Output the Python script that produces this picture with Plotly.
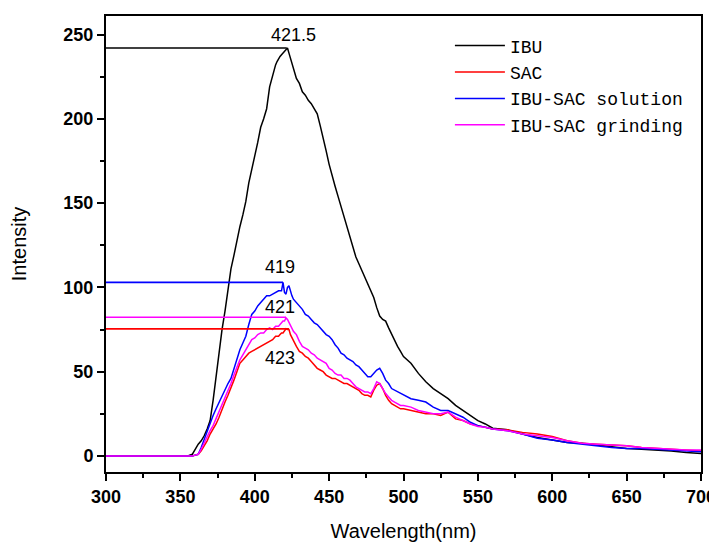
import plotly.graph_objects as go

# ---------------- data ----------------
wavelength = [300, 320, 340, 355, 358, 360,
              362, 364, 366, 368, 370, 372, 374, 376, 378, 380, 382, 384, 386, 388,
              390, 392, 394, 396, 398, 400, 402, 404, 406, 408, 410, 412, 414,
              415, 416, 417, 418, 419, 420, 421, 422, 423, 424, 425, 426, 427,
              428, 430, 432, 434, 436, 438, 440, 442, 444, 446,
              448, 450, 452, 454, 456, 458, 460, 462, 464, 466,
              468, 470, 472, 474, 476, 478, 480, 482, 484, 486,
              488, 490, 492, 494, 496, 498, 500,
              505, 510, 515, 520, 525, 530, 535, 540, 545, 550, 555, 560,
              570, 580, 590, 600, 610, 620, 630, 640, 650, 660, 670, 680, 690, 700]

ibu = [0, 0, 0, 0, 1, 4,
       7, 9, 12, 16, 21, 33, 48, 62, 75, 86, 100, 111, 119, 128,
       136, 143, 151, 162, 171, 178, 186, 195, 200, 206, 219, 226, 232,
       234, 236, 237, 238, 239, 240, 241, 242, 239, 236, 233, 230, 227,
       224, 221, 216, 214, 211, 209, 206, 203, 196, 189,
       181, 173, 166, 160, 154, 148, 142, 136, 130, 124,
       118, 114, 110, 105, 101, 97, 94, 88, 83, 81,
       80, 76, 72, 69, 65, 62, 59,
       55, 49, 44, 40, 37, 34, 30, 27, 24, 21, 19, 16.5,
       15.5, 13, 11, 9.5, 8, 7.5, 6.5, 5.5, 4.5, 4, 3.5, 3, 2, 1.5]

sac = [0, 0, 0, 0, 0, 0.5,
       1, 3, 6, 9, 13, 16, 19, 23, 28, 32, 36, 40, 45, 50,
       55, 57, 59, 61, 62, 63, 64, 65, 66, 67, 68, 69, 71,
       71, 71, 72, 73, 73, 74, 75.5, 75, 75, 72, 70, 68, 66,
       65, 62, 61, 59, 58, 56, 54, 52, 51, 50,
       48, 47, 46, 46, 45, 44, 43, 43, 42, 41,
       40, 39, 37, 36, 36, 35, 39, 42, 43, 40,
       36, 33, 31, 30, 29, 28, 28,
       27, 26, 25, 25, 24, 26, 22, 21, 19, 18, 17, 16,
       15.5, 14, 13, 11.5, 9, 7.5, 7, 6.5, 6, 5, 4.5, 4, 3.5, 3]

solution = [0, 0, 0, 0, 0, 0.5,
            1, 5, 10, 15, 20, 24, 28, 32, 36, 40, 43, 46, 52, 58,
            63, 67, 71, 78, 84, 86, 89, 91, 93, 95, 95, 96, 97,
            97, 98, 98, 98, 103, 97, 96, 100, 101, 97, 95, 93, 92,
            91, 89, 87, 84, 83, 81, 79, 78, 76, 74,
            72, 71, 69, 66, 64, 61, 60, 58, 57, 56,
            54, 53, 51, 49, 47, 47, 49, 51, 52, 49,
            45, 43, 40, 39, 38, 37, 36,
            34, 33, 32, 29, 27, 27, 25, 23, 20, 18, 17, 16,
            15, 13, 10.5, 9.5, 8, 7, 6, 5, 4.5, 4.5, 4, 3.5, 3, 2.5]

grinding = [0, 0, 0, 0, 0, 0.5,
            1, 4, 8, 11, 15, 18, 22, 27, 31, 35, 39, 43, 48, 53,
            57, 60, 63, 66, 69, 70, 72, 73, 73, 75, 76, 75, 77,
            77, 77, 78, 79, 80, 80, 82, 81, 79, 78, 76, 74, 73,
            72, 68, 65, 64, 63, 61, 60, 58, 57, 56,
            55, 52, 51, 49, 48, 48, 46, 46, 45, 43,
            41, 40, 39, 38, 38, 37, 40, 44, 43, 40,
            37, 35, 33, 32, 31, 30, 30,
            29, 27, 26, 25, 25, 26, 23, 21, 19, 17.5, 17, 16,
            15, 13, 12, 11, 9, 7.5, 7, 6.5, 6, 5, 4.5, 4, 3.5, 3.5]

series_names = ["IBU", "SAC", "IBU-SAC solution", "IBU-SAC grinding"]
series_values = [ibu, sac, solution, grinding]
series_colors = ["#000000", "#FF0000", "#0000FF", "#FF00FF"]

peak_labels = ["421.5", "423", "419", "421"]
peak_wl = [421.5, 423, 419, 421]
peak_val = [242, 75.4, 103, 82.3]

x_ticks = [300, 350, 400, 450, 500, 550, 600, 650, 700]
y_ticks = [0, 50, 100, 150, 200, 250]

# ---------------- figure ----------------
fig = go.Figure()
for name, vals, col in zip(series_names, series_values, series_colors):
    fig.add_trace(go.Scatter(x=wavelength, y=vals, mode="lines", name=name,
                             line=dict(color=col, width=1.5)))

# drop lines from the y axis to each peak
for wl, val, col in zip(peak_wl, peak_val, series_colors):
    fig.add_shape(type="line", xref="x", yref="y", x0=300, x1=wl, y0=val, y1=val,
                  line=dict(color=col, width=1.6))

# peak labels (offsets: label anchor placement relative to peak)
label_offsets = [(4.3, 7.5), (-5.9, -17.5), (-1.9, 9), (-3.9, 6)]
for txt, wl, val, (dx, dy) in zip(peak_labels, peak_wl, peak_val, label_offsets):
    fig.add_annotation(x=wl + dx, y=val + dy, text=txt, showarrow=False,
                       xanchor="center", yanchor="middle",
                       font=dict(family="Liberation Sans, Arial", size=18, color="#000000"))

# the page body adds an 8px margin, so the figure is sized to fit the window
fig.update_layout(
    width=709, height=535,
    margin=dict(l=98, r=16, t=8, b=71, autoexpand=False),
    paper_bgcolor="white", plot_bgcolor="white",
    showlegend=True,
    legend=dict(x=0.578, y=0.975, xanchor="left", yanchor="top",
                bgcolor="rgba(0,0,0,0)", borderwidth=0,
                font=dict(family="Liberation Mono, Courier New, monospace", size=18, color="#000000"),
                itemwidth=50, tracegroupgap=0),
    font=dict(family="Liberation Sans, Arial", color="#000000"),
)
fig.update_xaxes(
    range=[300, 700], tickvals=x_ticks, ticktext=[str(v) for v in x_ticks],
    automargin=False,
    showgrid=False, zeroline=False,
    showline=True, linecolor="black", linewidth=2, mirror=True,
    ticks="outside", ticklen=7, tickwidth=2, tickcolor="black",
    minor=dict(ticks="outside", ticklen=4, tickwidth=1.5, dtick=25, tick0=300, tickcolor="black"),
    tickfont=dict(family="Liberation Sans, Arial", size=18, color="black", weight="bold"),
    title=dict(text="Wavelength(nm)", font=dict(family="Liberation Sans, Arial", size=20, color="black"),
               standoff=18),
)
fig.update_yaxes(
    range=[-9.5, 261], tickvals=y_ticks, ticktext=[str(v) for v in y_ticks],
    automargin=False,
    showgrid=False, zeroline=False,
    showline=True, linecolor="black", linewidth=2, mirror=True,
    ticks="outside", ticklen=7, tickwidth=2, tickcolor="black",
    minor=dict(ticks="outside", ticklen=4, tickwidth=1.5, dtick=25, tick0=0, tickcolor="black"),
    tickfont=dict(family="Liberation Sans, Arial", size=18, color="black", weight="bold"),
    title=dict(text="Intensity", font=dict(family="Liberation Sans, Arial", size=20, color="black"),
               standoff=32),
)

fig.write_html("out.html")
